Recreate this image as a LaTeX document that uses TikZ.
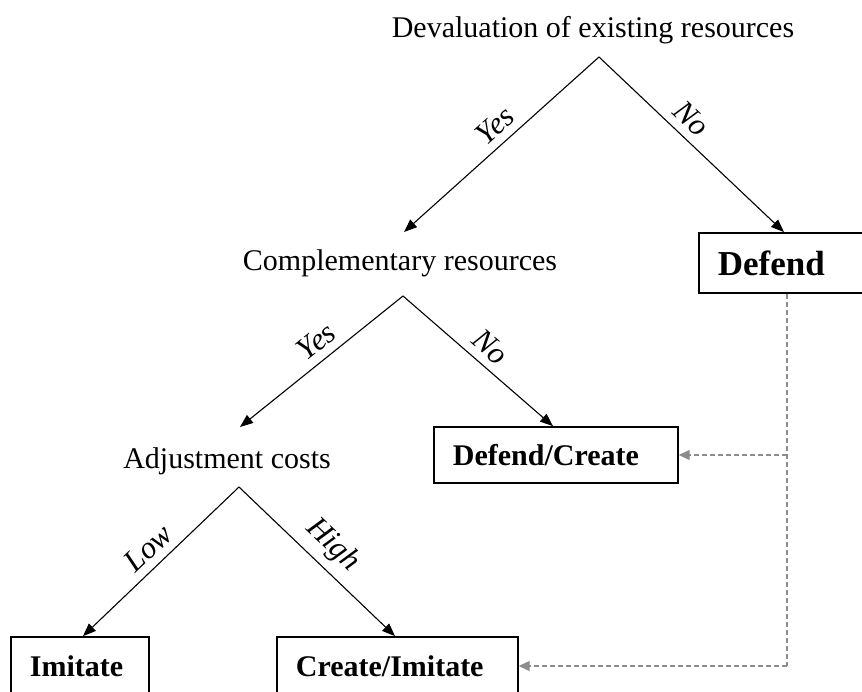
\documentclass[tikz,border=0pt]{standalone}
\usepackage{fontspec}
\setmainfont{Liberation Serif}
\usetikzlibrary{arrows.meta}
\begin{document}
\begin{tikzpicture}[x=1pt,y=-1pt,
  txt/.style={font=\fontsize{30}{36}\selectfont, inner sep=0pt, anchor=base},
  lbl/.style={font=\fontsize{31}{36}\selectfont\itshape, inner sep=2pt, sloped, above=6pt},
  arr/.style={line width=1.1pt, -{Triangle[length=13pt,width=10pt]}},
  box/.style={draw, line width=1.7pt, font=\fontsize{30}{36}\selectfont\bfseries,
    inner xsep=19pt, inner ysep=0pt, align=left, anchor=west},
  dashlink/.style={draw=black!45, line width=1.2pt, dash pattern=on 5pt off 3pt},
  dasharr/.style={dashlink, -{Triangle[length=11pt,width=10pt,fill=black!45]}}
]
\useasboundingbox (0,0) rectangle (862,691);
\clip (0,0) rectangle (862,691);

% questions of the decision tree
\node[txt] (title) at (593,37) {Devaluation of existing resources};
\node[txt] (comp)  at (400,270) {Complementary resources};
\node[txt] (adj)   at (227,468) {Adjustment costs};

% branching points and the ends of the branches
\coordinate (a1) at (599,57);
\coordinate (c-in) at (404,232);
\coordinate (a2) at (403,296);
\coordinate (j-in) at (240,427);
\coordinate (a3) at (239,487);
\coordinate (v) at (787,0);

% outcomes
\node[box, text width=142pt, minimum height=60pt,
      font=\fontsize{35}{40}\selectfont\bfseries] (defend) at (698,263) {Defend};
\node[box, text width=206pt, minimum height=56pt] (dc) at (433,455) {Defend/Create};
\node[box, text width=100pt, minimum height=58pt] (imit) at (10,666) {Imitate};
\node[box, text width=203pt, minimum height=58pt] (ci) at (276,666) {Create/Imitate};

% branches
\draw[arr] (a1) -- node[lbl,pos=.47] {Yes} (c-in);
\draw[arr] (a1) -- node[lbl,pos=.43] {No} ([xshift=86pt]defend.north west);
\draw[arr] (a2) -- node[lbl,pos=.46] {Yes} (j-in);
\draw[arr] (a2) -- node[lbl,pos=.5] {No} ([xshift=120pt]dc.north west);
\draw[arr] (a3) -- node[lbl,pos=.5] {Low} ([xshift=73pt]imit.north west);
\draw[arr] (a3) -- node[lbl,pos=.5] {High} ([xshift=119pt]ci.north west);

% fall-back links from Defend
\draw[dashlink] (defend.south -| v) -- (v |- ci.east);
\draw[dasharr] (v |- ci.east) -- (ci.east);
\draw[dasharr] (v |- dc.east) -- (dc.east);
\end{tikzpicture}
\end{document}
